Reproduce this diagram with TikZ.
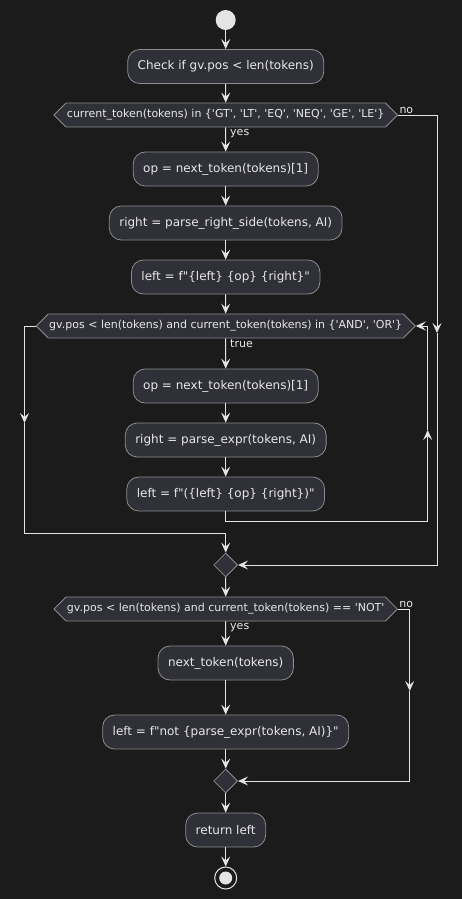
\documentclass[tikz,border=0pt]{standalone}
\usepackage{fontspec}
\setmainfont{DejaVu Sans}
\usetikzlibrary{arrows.meta,shapes.geometric,shapes.symbols}
\definecolor{bgc}{HTML}{1B1B1B}
\definecolor{boxc}{HTML}{2F3038}
\definecolor{edgec}{HTML}{8C8C8C}
\definecolor{linec}{HTML}{E4E4E4}
\definecolor{txtc}{HTML}{E8E8E8}
\newcommand{\squote}{\textquotesingle}
\newcommand{\dquote}{\textquotedbl}
\begin{document}
\begin{tikzpicture}[x=1pt,y=-1pt,
	act/.style={rectangle,rounded corners=12pt,draw=edgec,fill=boxc,line width=0.8pt,text=txtc,font=\fontsize{12}{14}\selectfont,inner xsep=10pt,minimum height=34pt},
	cond/.style={signal,signal to=west and east,signal pointer angle=90,draw=edgec,fill=boxc,line width=0.8pt,text=txtc,font=\fontsize{11}{13}\selectfont,inner xsep=1pt,minimum height=24pt},
	merge/.style={diamond,draw=edgec,fill=boxc,line width=0.8pt,minimum width=24pt,minimum height=24pt,inner sep=0pt},
	lbl/.style={text=txtc,font=\fontsize{11}{13}\selectfont,inner sep=1pt},
	flow/.style={draw=linec,line width=1pt,-{Stealth[length=10pt,width=9pt,inset=4pt]}}]
	\fill[bgc] (0,0) rectangle (462,899);
	\useasboundingbox (0,0) rectangle (462,899);
	\node[circle,fill=linec,minimum size=20pt,inner sep=0pt] (start) at (225.7,20) {};
	\node[act] (check) at (225.7,66.5) {Check if gv.pos < len(tokens)};
	\node[cond] (cmp) at (225.7,115) {current\_token(tokens) in \{\squote GT\squote, \squote LT\squote, \squote EQ\squote, \squote NEQ\squote, \squote GE\squote, \squote LE\squote\}};
	\node[act] (op1) at (225.7,169) {op = next\_token(tokens)[1]};
	\node[act] (rgt1) at (225.7,223) {right = parse\_right\_side(tokens, AI)};
	\node[act] (lft1) at (225.7,277) {left = f\dquote\{left\} \{op\} \{right\}\dquote};
	\node[cond] (whl) at (225.7,326) {gv.pos < len(tokens) and current\_token(tokens) in \{\squote AND\squote, \squote OR\squote\}};
	\node[act] (op2) at (225.7,386) {op = next\_token(tokens)[1]};
	\node[act] (rgt2) at (225.7,440) {right = parse\_expr(tokens, AI)};
	\node[act] (lft2) at (225.7,494) {left = f\dquote(\{left\} \{op\} \{right\})\dquote};
	\node[merge] (m1) at (225.7,565) {};
	\node[cond] (ntq) at (225.7,609) {gv.pos < len(tokens) and current\_token(tokens) == \squote NOT\squote};
	\node[act] (nxt) at (225.7,663) {next\_token(tokens)};
	\node[act] (lnot) at (225.7,732) {left = f\dquote not \{parse\_expr(tokens, AI)\}\dquote};
	\node[merge] (m2) at (225.7,781) {};
	\node[act] (ret) at (225.7,830) {return left};
	\node[circle,draw=linec,line width=1pt,minimum size=22pt,inner sep=0pt,
		path picture={\fill[linec] (path picture bounding box.center) circle (6.5pt);}] (stop) at (225.7,878) {};
	\coordinate (noA) at (437,333);
	\coordinate (lpB) at (427.7,521);
	\coordinate (lpU) at (427.7,430);
	\coordinate (exD) at (24.5,423);
	\coordinate (exB) at (24.5,533);
	\coordinate (noB) at (409.7,691);
	\draw[flow] (start) -- (check);
	\draw[flow] (check) -- (cmp);
	\draw[flow] (cmp) -- (op1) node[lbl,anchor=north west,pos=0,xshift=3pt] {yes};
	\draw[flow] (cmp.east) -| (noA) node[lbl,anchor=south west,pos=0] {no};
	\draw[flow] (noA) |- (m1.east);
	\draw[flow] (op1) -- (rgt1);
	\draw[flow] (rgt1) -- (lft1);
	\draw[flow] (lft1) -- (whl);
	\draw[flow] (whl) -- (op2) node[lbl,anchor=north west,pos=0,xshift=3pt] {true};
	\draw[flow] (op2) -- (rgt2);
	\draw[flow] (rgt2) -- (lft2);
	\draw[flow] (lft2.south) |- (lpB) -- (lpU);
	\draw[flow] (lpU) |- (whl.east);
	\draw[flow] (whl.west) -| (exD);
	\draw[flow] (exD) -- (exB) -| (m1.north);
	\draw[flow] (m1) -- (ntq);
	\draw[flow] (ntq) -- (nxt) node[lbl,anchor=north west,pos=0,xshift=3pt] {yes};
	\draw[flow] (ntq.east) -| (noB) node[lbl,anchor=south west,pos=0] {no};
	\draw[flow] (noB) |- (m2.east);
	\draw[flow] (nxt) -- (lnot);
	\draw[flow] (lnot) -- (m2);
	\draw[flow] (m2) -- (ret);
	\draw[flow] (ret) -- (stop);
\end{tikzpicture}
\end{document}
